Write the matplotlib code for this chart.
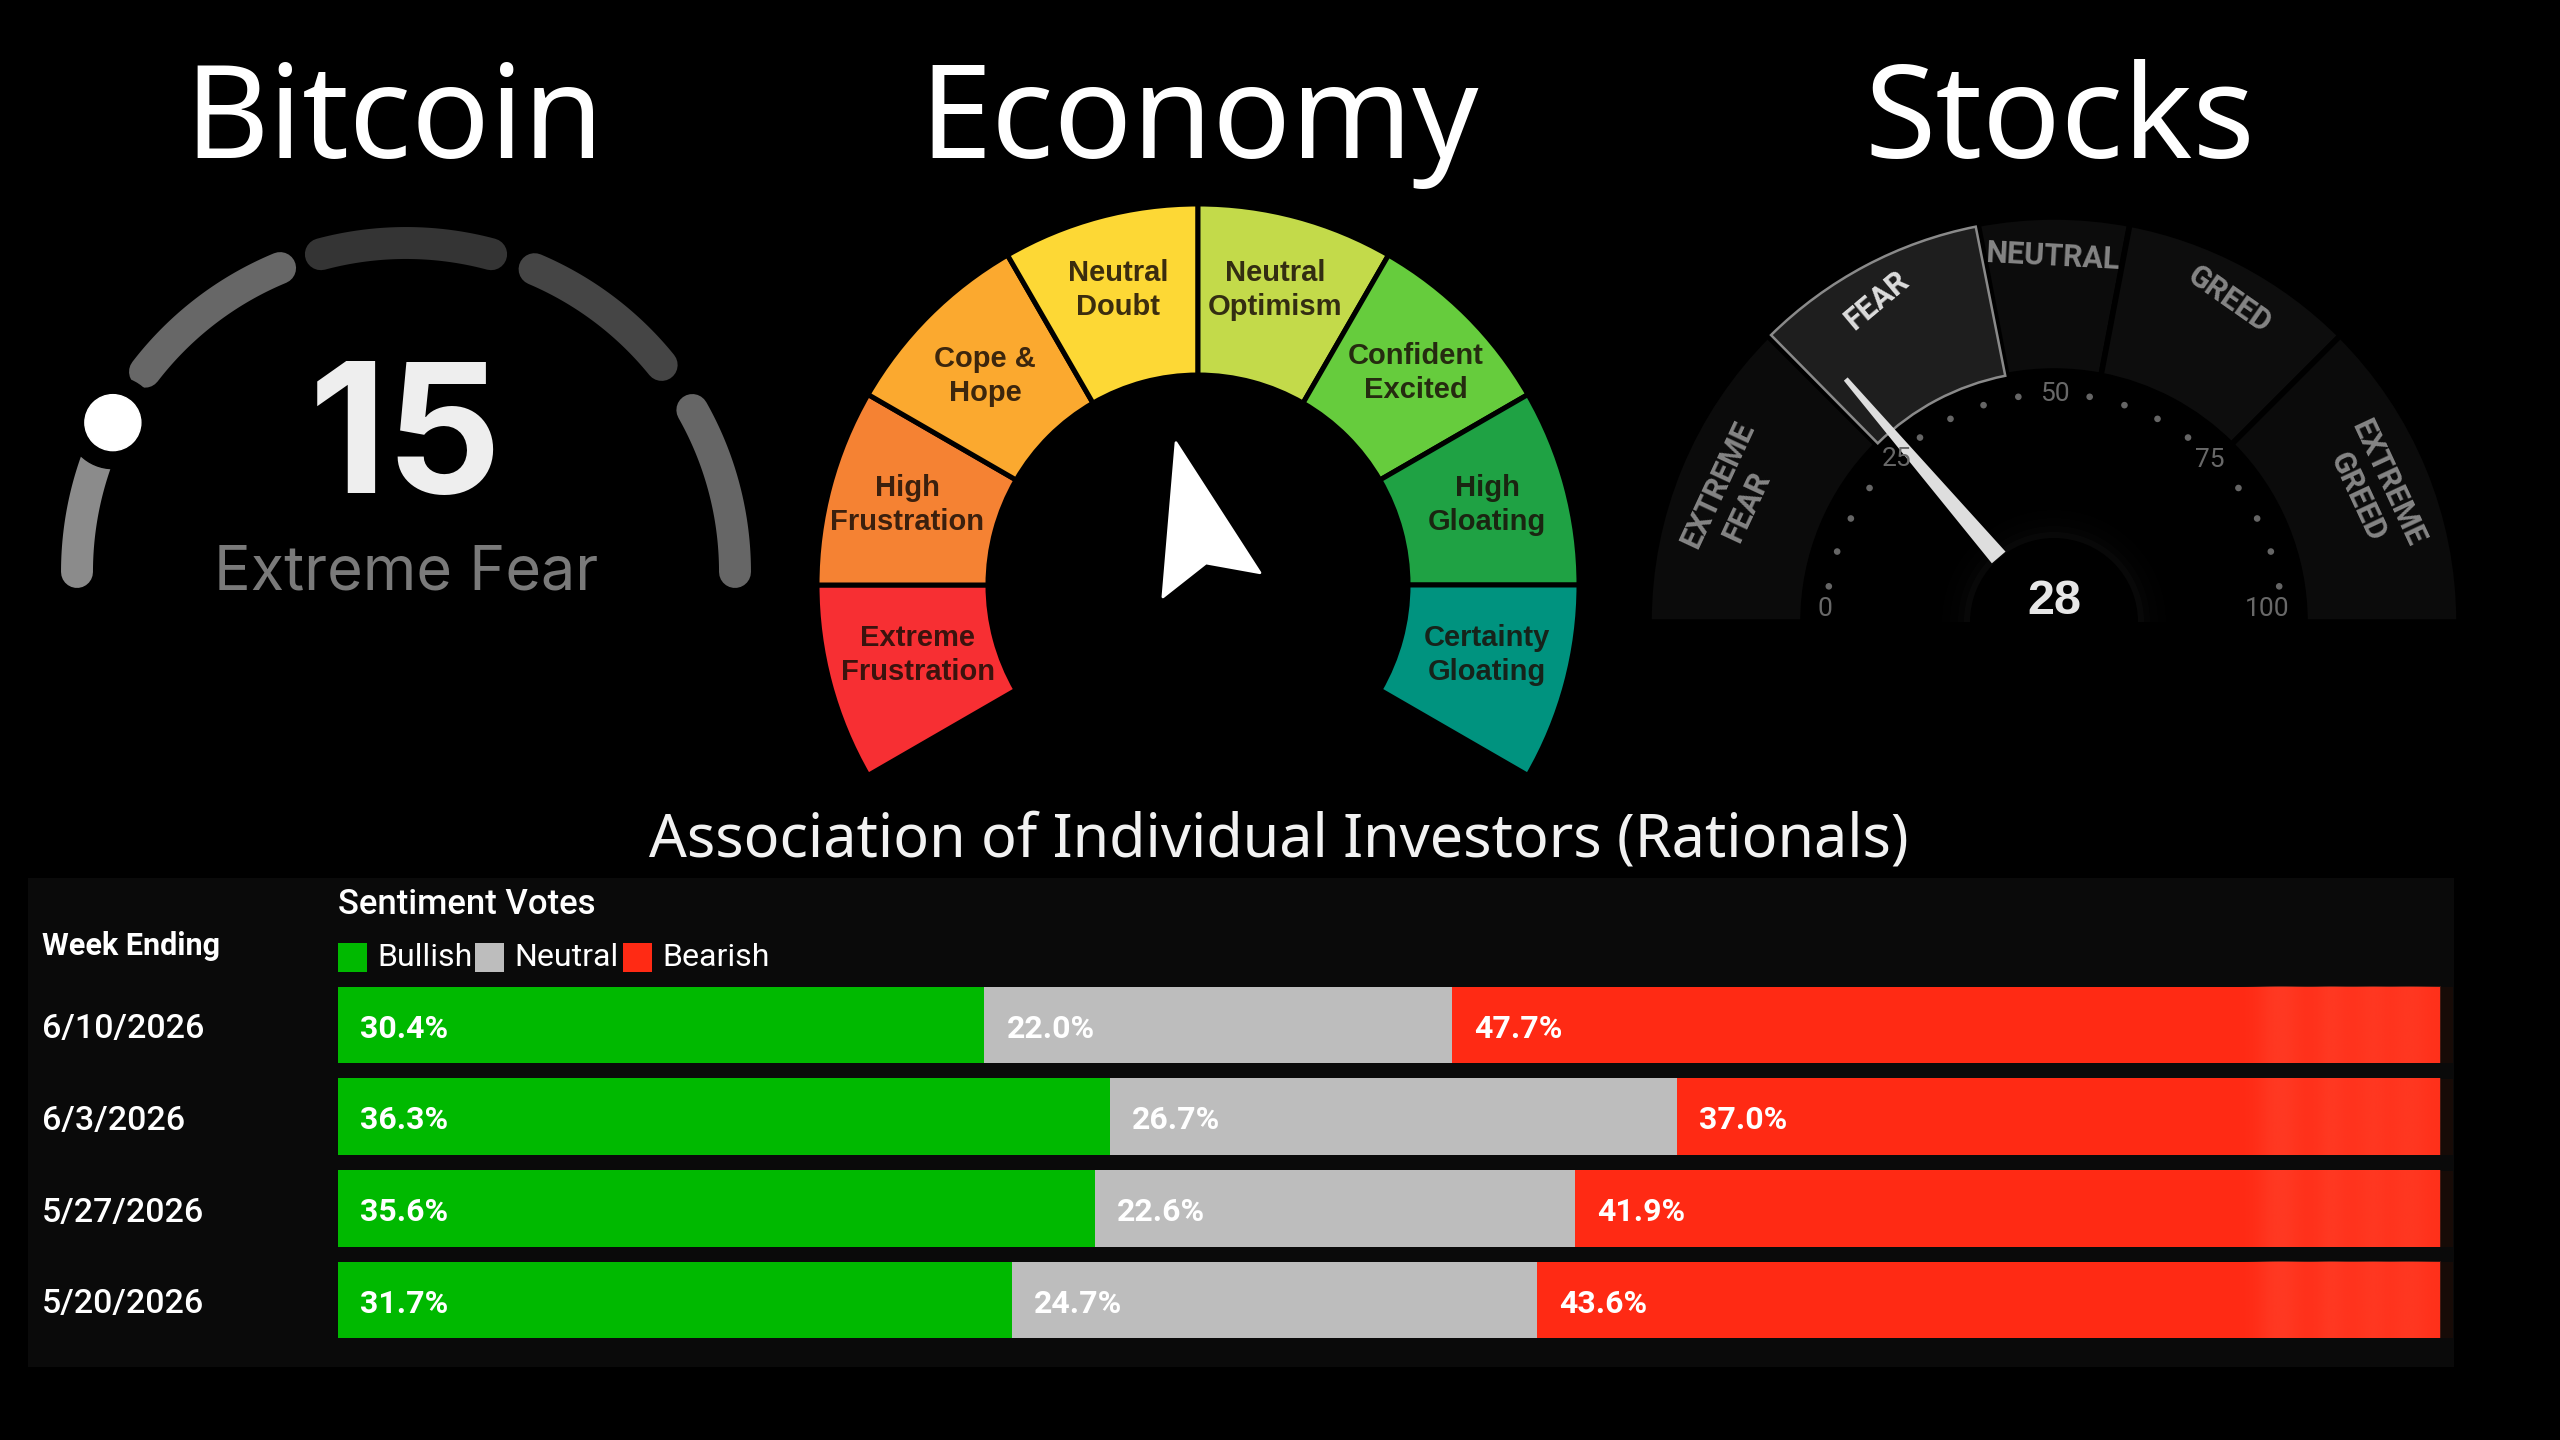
import numpy as np
import matplotlib
matplotlib.use('Agg')
from matplotlib import pyplot as plt
from matplotlib.patches import Wedge, Circle, Polygon, Rectangle

# ---- data
titles = ['Bitcoin', 'Economy', 'Stocks']
table_title = 'Association of Individual Investors (Rationals)'

btc_value = 15
btc_label = 'Extreme Fear'
btc_segments = [(180, 157), (142.5, 112.5), (105, 75), (67, 39), (29.5, 0)]

econ_labels = ['Extreme\nFrustration', 'High\nFrustration', 'Cope &\nHope', 'Neutral\nDoubt',
               'Neutral\nOptimism', 'Confident\nExcited', 'High\nGloating', 'Certainty\nGloating']
econ_sizes = [1, 1, 1, 1, 1, 1, 1, 1]
econ_needle_angle = 104

stock_value = 28
stock_edges = [0, 25, 44, 56, 75, 100]
stock_names = ['EXTREME\nFEAR', 'FEAR', 'NEUTRAL', 'GREED', 'EXTREME\nGREED']
stock_ticks = [0, 25, 50, 75, 100]

weeks = ['6/10/2026', '6/3/2026', '5/27/2026', '5/20/2026']
bullish = [30.4, 36.3, 35.6, 31.7]
neutral = [22.0, 26.7, 22.6, 24.7]
bearish = [47.7, 37.0, 41.9, 43.6]
series_names = ['Bullish', 'Neutral', 'Bearish']

# ---- canvas, everything in picture pixels
W, H = 2560, 1440
def Y(py):
    return H - py

fig = plt.figure(figsize=(25.6, 14.4), dpi=100, facecolor='black')
ax = fig.add_axes([0, 0, 1, 1])
ax.set_xlim(0, W)
ax.set_ylim(0, H)
ax.axis('off')

for name, cx in zip(titles, [394, 1199, 2060]):
    ax.text(cx, Y(158), name, color='white', fontsize=93.5, family='Noto Sans', ha='center', va='baseline')
ax.text(1279, Y(856), table_title, color='#f2f2f2', fontsize=42.7, family='Noto Sans', ha='center', va='baseline')

# ---- bitcoin gauge
cx, cy, r = 406, Y(572), 329
btc_colors = ['#8b8b8b', '#676767', '#343434', '#454545', '#666666']
for (a0, a1), col in zip(btc_segments, btc_colors):
    th = np.radians(np.linspace(a0, a1, 80))
    ax.plot(cx + r * np.cos(th), cy + r * np.sin(th), color=col, lw=23, solid_capstyle='round')
th = np.radians(180 - 1.8 * btc_value)
ax.add_patch(Circle((cx + r * np.cos(th), cy + r * np.sin(th)), 46, color='black', zorder=3))
ax.add_patch(Circle((cx + r * np.cos(th), cy + r * np.sin(th)), 28, color='white', zorder=4))
ax.text(405, Y(493), str(btc_value), color='#eeeeee', fontsize=130, family='Inter', weight='bold', ha='center', va='baseline')
ax.text(406, Y(590), btc_label, color='#7a7a7a', fontsize=44, family='Inter', ha='center', va='baseline')

# ---- economy gauge
cx, cy = 1198, Y(585)
econ_colors = ['#f72f33', '#f58233', '#fba92f', '#fdd835', '#c3da4a', '#66cc3d', '#1fa244', '#00937f']
econ_text_xy = [(918, 655), (907, 505), (985, 376), (1118, 290), (1275, 290), (1416, 373), (1487, 505), (1487, 655)]
step = 240 / sum(econ_sizes)
a = 210
for size, col, lab, (tx, ty) in zip(econ_sizes, econ_colors, econ_labels, econ_text_xy):
    ax.add_patch(Wedge((cx, cy), 381, a - size * step, a, width=171, facecolor=col, edgecolor='black', lw=3.6))
    ax.text(tx, Y(ty), lab, color='#1a0f08', fontsize=21, family='Liberation Sans', weight='bold',
            ha='center', va='center', linespacing=1.3, alpha=0.85)
    a -= size * step

u = np.array([np.cos(np.radians(econ_needle_angle)), np.sin(np.radians(econ_needle_angle))])
v = np.array([u[1], -u[0]])
notch = np.array([cx + 8, cy + 22])
arrow = [notch + 124 * u, notch - 22.5 * u + 50 * v, notch, notch - 22.5 * u - 50 * v]
ax.add_patch(Polygon(arrow, closed=True, facecolor='white', edgecolor='white', lw=2, joinstyle='round'))

# ---- stocks gauge
cx, cy = 2054, Y(622)
def val2ang(val):
    return 180 - 1.8 * val

seg_colors = ['#0b0b0b', '#1e1e1e', '#0c0c0c', '#0d0d0d', '#0b0b0b']
for i in range(5):
    a1, a0 = val2ang(stock_edges[i]), val2ang(stock_edges[i + 1])
    ax.add_patch(Wedge((cx, cy), 405, a0, a1, width=154, facecolor=seg_colors[i], edgecolor='black', lw=4))
a1, a0 = val2ang(stock_edges[1]), val2ang(stock_edges[2])
ax.add_patch(Wedge((cx, cy), 403, a0 + 0.4, a1 - 0.4, width=152, facecolor='#1e1e1e', edgecolor='#8a8a8a', lw=1.8))

stock_text = [[(1718, 485, 'EXTREME', 65), (1747, 507, 'FEAR', 65)], [(1877, 300, 'FEAR', 40)],
              [(2053, 257, 'NEUTRAL', -3)], [(2229, 300, 'GREED', -35)],
              [(2388, 483, 'EXTREME', -65), (2358, 497, 'GREED', -65)]]
for i, group in enumerate(stock_text):
    for tx, ty, s, rot in group:
        ax.text(tx, Y(ty), s, color='#dddddd' if i == 1 else '#858585', fontsize=22, family='Roboto',
                weight='bold', ha='center', va='center', rotation=rot)

for val in range(5, 100, 5):
    if val % 25 == 0:
        continue
    th = np.radians(val2ang(val))
    ax.add_patch(Circle((cx + 228 * np.cos(th), cy + 228 * np.sin(th)), 2.6, color='#666666'))

tick_xy = [(1825, 609), (1897, 459), (2055, 394), (2210, 460), (2267, 609)]
for val, (tx, ty) in zip(stock_ticks, tick_xy):
    ax.text(tx, Y(ty), str(val), color='#686868', fontsize=19, family='Roboto', ha='center', va='center')

# soft glow behind the hub
for rr, al in zip([112, 104, 96, 90], [0.006, 0.008, 0.012, 0.018]):
    ax.add_patch(Wedge((cx, cy), rr, 0, 180, facecolor='white', alpha=al, lw=0))
ax.add_patch(Wedge((cx, cy), 84, 0, 180, facecolor='black', lw=0))

# needle sits about a degree past its value in the source
th = np.radians(val2ang(stock_value) + 1)
u = np.array([np.cos(th), np.sin(th)])
v = np.array([u[1], -u[0]])
c = np.array([cx, cy])
ax.add_patch(Polygon([c + 85 * u + 9 * v, c + 320 * u + 2.5 * v, c + 320 * u - 2.5 * v, c + 85 * u - 9 * v],
                     closed=True, facecolor='#dedede', lw=0))
ax.text(cx, Y(601), str(stock_value), color='#e6e6e6', fontsize=35, family='Liberation Sans', weight='bold', ha='center', va='center')

# ---- table panel
ax.add_patch(Rectangle((28, Y(1367)), 2426, 489, facecolor='#0a0a0a', lw=0, zorder=0))
ax.text(42, Y(946), 'Week Ending', color='white', fontsize=22, family='Roboto', weight='bold', ha='left', va='center')
ax.text(338, Y(905), 'Sentiment Votes', color='white', fontsize=25, family='Roboto', weight='medium', ha='left', va='center')

bar_colors = ['#00b900', '#bdbdbd', '#ff2a14']
for name, col, sx, tx in zip(series_names, bar_colors, [338, 475, 623], [377, 514, 662]):
    ax.add_patch(Rectangle((sx, Y(972)), 29, 29, facecolor=col, lw=0))
    ax.text(tx, Y(957), name, color='white', fontsize=23, family='Roboto', ha='left', va='center')

row_y = [1025, 1116.5, 1208.5, 1300]
for wk, ry in zip(weeks, row_y):
    ax.text(42, Y(ry + 4), wk, color='white', fontsize=24.5, family='Roboto', weight='medium', ha='left', va='center')
    ax.add_patch(Rectangle((2440, Y(ry + 38)), 13, 76, facecolor='#170b07', lw=0))

# stacked bars on their own axes, the red runs past the right edge and gets cut
bx = fig.add_axes([338 / W, (H - 1345.8) / H, 2102 / W, 366.6 / H])
bx.axis('off')
pos = np.arange(len(weeks))
b = np.array(bullish)
n = np.array(neutral)
bx.barh(pos, b, height=0.835, color=bar_colors[0])
bx.barh(pos, n, left=b, height=0.835, color=bar_colors[1])
bx.barh(pos, bearish, left=b + n, height=0.835, color=bar_colors[2])
for i in pos:
    for val, left in zip([bullish[i], neutral[i], bearish[i]], [0, b[i], b[i] + n[i]]):
        bx.text(left + 1.05, i + 0.04, '%.1f%%' % val, color='white', fontsize=23, family='Roboto', weight='bold', ha='left', va='center')

# blurry patch at the right of the red bars
stripes = np.array([0, .1, .45, .5, .25, .2, .55, .3, .3, .5, .25, .45, .4, .2])
tex = np.zeros((1, len(stripes), 4))
tex[..., :3] = matplotlib.colors.to_rgb('#ff4a33')
tex[..., 3] = stripes
for i in pos:
    bx.imshow(tex, extent=(89.2, 98.9, i + 0.4175, i - 0.4175), aspect='auto', interpolation='bicubic', zorder=2)
bx.set_xlim(0, 98.9)
bx.set_ylim(3.5, -0.5)

fig.savefig('out.png', dpi=100, facecolor='black')
